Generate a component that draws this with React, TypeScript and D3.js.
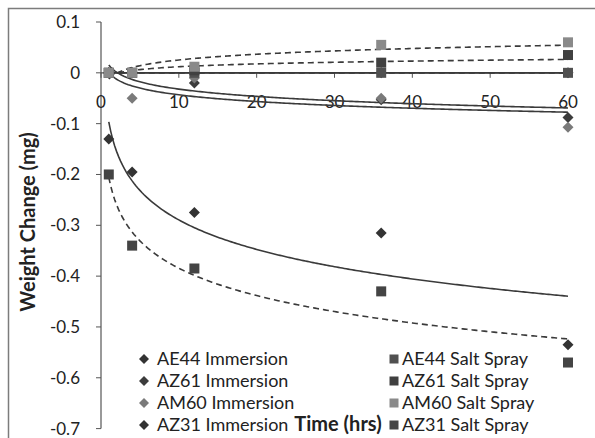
import { useEffect, useRef } from "react"
import * as d3 from "d3"

// sample times (hrs)
const times = [1, 4, 12, 36, 60]

// weight change (mg), immersion
const ae44Immersion = [0, 0, 0, 0, 0]
const az61Immersion = [0, 0, -0.02, -0.053, -0.088]
const am60Immersion = [0, -0.05, -0.01, -0.05, -0.107]
const az31Immersion = [-0.13, -0.195, -0.275, -0.315, -0.535]

// weight change (mg), salt spray
const ae44SaltSpray = [0, 0, 0, 0, 0]
const az61SaltSpray = [0, 0, 0.005, 0.02, 0.035]
const am60SaltSpray = [0, 0, 0.012, 0.055, 0.06]
const az31SaltSpray = [-0.2, -0.34, -0.385, -0.43, -0.57]

const xTicks = [0, 10, 20, 30, 40, 50, 60]
const yTicks = [0.1, 0, -0.1, -0.2, -0.3, -0.4, -0.5, -0.6, -0.7]

const series = [
  { name: "AE44 Immersion", values: ae44Immersion, shape: "diamond", color: "#333333" },
  { name: "AZ61 Immersion", values: az61Immersion, shape: "diamond", color: "#3c3c3c" },
  { name: "AM60 Immersion", values: am60Immersion, shape: "diamond", color: "#7a7a7a" },
  { name: "AZ31 Immersion", values: az31Immersion, shape: "diamond", color: "#333333" },
  { name: "AE44 Salt Spray", values: ae44SaltSpray, shape: "square", color: "#505050" },
  { name: "AZ61 Salt Spray", values: az61SaltSpray, shape: "square", color: "#404040" },
  { name: "AM60 Salt Spray", values: am60SaltSpray, shape: "square", color: "#8a8a8a" },
  { name: "AZ31 Salt Spray", values: az31SaltSpray, shape: "square", color: "#444444" },
]

// Excel-style logarithmic trendline: y = a ln(x) + b
const logFit = (xs, ys) => {
  const lx = xs.map((v) => Math.log(v))
  const mx = d3.mean(lx)
  const my = d3.mean(ys)
  const sxy = d3.sum(lx, (v, i) => (v - mx) * (ys[i] - my))
  const sxx = d3.sum(lx, (v) => (v - mx) * (v - mx))
  const a = sxy / sxx
  const b = my - a * mx
  return (x) => a * Math.log(x) + b
}

const FONT = "Lato, 'Open Sans', sans-serif"

export default function App() {
  const svgRef = useRef(null)

  useEffect(() => {
    const svg = d3.select(svgRef.current)
    svg.selectAll("*").remove()

    const x = d3.scaleLinear().domain([0, 60]).range([101, 568])
    const y = d3.scaleLinear().domain([-0.7, 0.1]).range([428.6, 22])

    svg.append("rect").attr("width", 595).attr("height", 438).attr("fill", "#ffffff")
    // chart area border
    svg
      .append("rect")
      .attr("x", 8.5)
      .attr("y", 8.5)
      .attr("width", 620)
      .attr("height", 460)
      .attr("fill", "none")
      .attr("stroke", "#7c7c7c")
      .attr("stroke-width", 1.5)

    // y axis
    const yAxis = svg.append("g").attr("transform", `translate(${x(0)},0)`)
    yAxis
      .append("line")
      .attr("y1", y(0.1))
      .attr("y2", y(-0.7))
      .attr("stroke", "#555")
      .attr("stroke-width", 1.2)
    yAxis
      .selectAll("line.tick")
      .data(yTicks)
      .enter()
      .append("line")
      .attr("class", "tick")
      .attr("x1", -5)
      .attr("x2", 0)
      .attr("y1", (d) => y(d))
      .attr("y2", (d) => y(d))
      .attr("stroke", "#555")
    yAxis
      .selectAll("text")
      .data(yTicks)
      .enter()
      .append("text")
      .attr("x", -21)
      .attr("y", (d) => y(d))
      .attr("dy", "0.35em")
      .attr("text-anchor", "end")
      .attr("font-family", FONT)
      .attr("font-size", 17)
      .attr("fill", "#222")
      .text((d) => (d === 0 ? "0" : d3.format(".1f")(d).replace("−", "-")))

    // x axis crosses at y = 0
    const xAxis = svg.append("g").attr("transform", `translate(0,${y(0)})`)
    xAxis
      .append("line")
      .attr("x1", x(0))
      .attr("x2", x(60))
      .attr("stroke", "#555")
      .attr("stroke-width", 1.2)
    xAxis
      .selectAll("line.tick")
      .data(xTicks)
      .enter()
      .append("line")
      .attr("class", "tick")
      .attr("x1", (d) => x(d))
      .attr("x2", (d) => x(d))
      .attr("y1", 0)
      .attr("y2", 5)
      .attr("stroke", "#555")
    xAxis
      .selectAll("text")
      .data(xTicks)
      .enter()
      .append("text")
      .attr("x", (d) => x(d))
      .attr("y", 35)
      .attr("text-anchor", "middle")
      .attr("font-family", FONT)
      .attr("font-size", 17)
      .attr("fill", "#222")
      .text((d) => d)

    // axis titles
    svg
      .append("text")
      .attr("transform", `translate(35,222) rotate(-90)`)
      .attr("text-anchor", "middle")
      .attr("font-family", FONT)
      .attr("font-weight", "bold")
      .attr("font-size", 20)
      .attr("fill", "#222")
      .text("Weight Change (mg)")

    // trendlines
    const samples = d3.range(1, 60.01, 0.25)
    const line = d3
      .line()
      .x((d) => x(d[0]))
      .y((d) => y(d[1]))
    series.forEach((s) => {
      const f = logFit(times, s.values)
      svg
        .append("path")
        .attr("d", line(samples.map((t) => [t, f(t)])))
        .attr("fill", "none")
        .attr("stroke", "#3a3a3a")
        .attr("stroke-width", 1.6)
        .attr("stroke-dasharray", s.shape === "square" ? "6,4" : null)
    })

    // markers
    const drawMarker = (g, shape, cx, cy, size, color) => {
      if (shape === "diamond") {
        const h = size / 2
        g.append("path")
          .attr("d", `M${cx},${cy - h}L${cx + h},${cy}L${cx},${cy + h}L${cx - h},${cy}Z`)
          .attr("fill", color)
      } else {
        g.append("rect")
          .attr("x", cx - size / 2)
          .attr("y", cy - size / 2)
          .attr("width", size)
          .attr("height", size)
          .attr("fill", color)
      }
    }

    const marks = svg.append("g")
    series.forEach((s) => {
      s.values.forEach((v, i) => {
        drawMarker(marks, s.shape, x(times[i]), y(v), s.shape === "diamond" ? 11 : 10, s.color)
      })
    })

    // legend
    const legend = svg.append("g").attr("font-family", FONT).attr("font-size", 18).attr("fill", "#222")
    series.forEach((s, i) => {
      const col = i < 4 ? 0 : 1
      const row = i % 4
      const lx = col === 0 ? 144 : 394
      const ly = 359 + row * 22
      drawMarker(legend, s.shape, lx, ly, s.shape === "diamond" ? 10 : 9, s.color)
      legend
        .append("text")
        .attr("x", lx + (col === 0 ? 13 : 8))
        .attr("y", ly)
        .attr("dy", "0.35em")
        .text(s.name)
    })

    svg
      .append("text")
      .attr("x", 338)
      .attr("y", 424)
      .attr("dy", "0.35em")
      .attr("text-anchor", "middle")
      .attr("font-family", FONT)
      .attr("font-weight", "bold")
      .attr("font-size", 20)
      .attr("fill", "#222")
      .text("Time (hrs)")
  }, [])

  return (
    <div style={{ position: "absolute", left: 0, top: 0, width: 595, height: 438, overflow: "hidden" }}>
      <svg ref={svgRef} width={595} height={438} style={{ display: "block" }} />
    </div>
  )
}
